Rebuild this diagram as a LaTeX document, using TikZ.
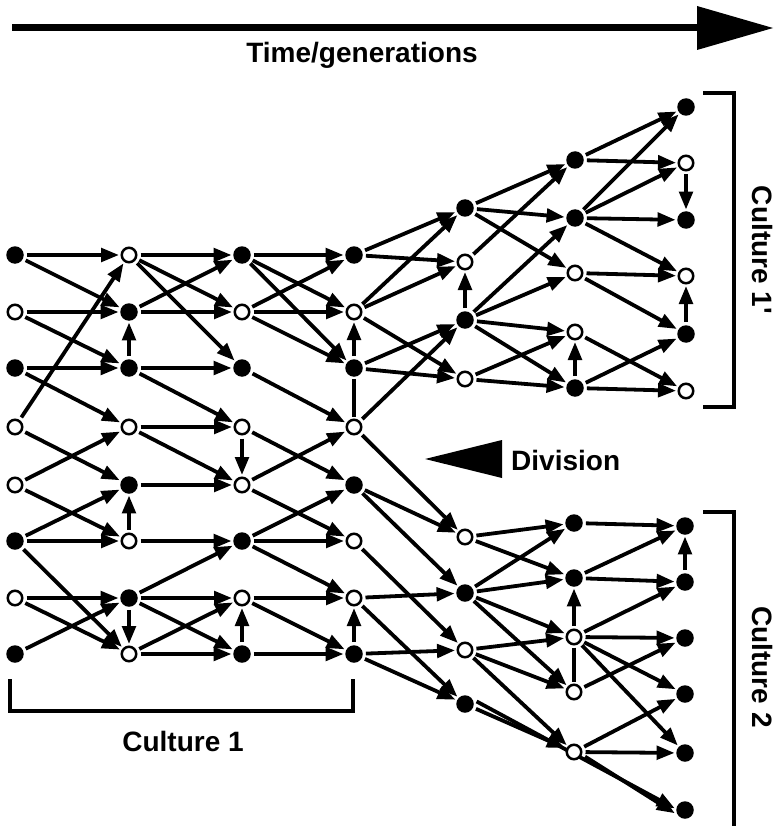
\documentclass[tikz,border=0pt]{standalone}
\usepackage{fontspec}
\setmainfont{Liberation Sans}
\usetikzlibrary{arrows.meta,backgrounds}
\tikzset{
  fnode/.style={circle,fill=black,minimum size=17.5pt,inner sep=0pt},
  onode/.style={circle,draw=black,line width=2.5pt,fill=white,minimum size=14.5pt,inner sep=0pt},
  arr/.style={line width=3.8pt,-{Triangle[length=18pt,width=13.5pt]},shorten >=1.5pt,shorten <=3pt},
  pln/.style={line width=3.8pt,shorten >=2pt,shorten <=2pt},
  lab/.style={font=\bfseries\fontsize{28}{32}\selectfont},
  brk/.style={line width=3.6pt}
}
\begin{document}
\begin{tikzpicture}[x=1pt,y=-1pt]
\useasboundingbox (0,0) rectangle (776,826);
% time arrow
\coordinate (ts) at (12,28);
\coordinate (te) at (700,28);
\draw[line width=7pt] (ts) -- (te);
\fill (697,6) -- (773,28) -- (697,50) -- cycle;
\node[lab] (time) at (362,55) {Time/generations};
% columns
\foreach \n/\y/\t in {1/255/fnode,2/312/onode,3/368/fnode,4/427/onode,5/485/onode,6/541/fnode,7/598/onode,8/654/fnode}
  {\node[\t] (a\n) at (15,\y) {};}
\foreach \n/\y/\t in {1/255/onode,2/312/fnode,3/368/fnode,4/427/onode,5/485/fnode,6/541/onode,7/598/fnode,8/654/onode}
  {\node[\t] (b\n) at (129,\y) {};}
\foreach \n/\y/\t in {1/255/fnode,2/312/onode,3/368/fnode,4/427/onode,5/485/onode,6/541/fnode,7/598/onode,8/654/fnode}
  {\node[\t] (c\n) at (242,\y) {};}
\foreach \n/\y/\t in {1/255/fnode,2/312/onode,3/368/fnode,4/427/onode,5/485/fnode,6/541/onode,7/598/onode,8/654/fnode}
  {\node[\t] (d\n) at (354,\y) {};}
\foreach \n/\y/\t in {1/208/fnode,2/262/onode,3/320/fnode,4/379/onode}
  {\node[\t] (e\n) at (465,\y) {};}
\foreach \n/\y/\t in {1/537/onode,2/593/fnode,3/650/onode,4/704/fnode}
  {\node[\t] (f\n) at (465,\y) {};}
\foreach \n/\y/\t in {1/160/fnode,2/218/fnode,3/273/onode,4/332/onode,5/388/fnode}
  {\node[\t] (g\n) at (575,\y) {};}
\foreach \n/\y/\t in {1/107/fnode,2/163/onode,3/220/fnode,4/276/onode,5/334/fnode,6/391/onode}
  {\node[\t] (h\n) at (686,\y) {};}
\foreach \n/\y/\t in {1/523/fnode,2/578/fnode,3/637/onode,4/692/onode,5/752/onode}
  {\node[\t] (p\n) at (574,\y) {};}
\foreach \n/\y/\t in {1/526/fnode,2/582/fnode,3/638/fnode,4/694/fnode,5/753/fnode,6/810/fnode}
  {\node[\t] (q\n) at (685,\y) {};}
% edges col0 -> col1
\foreach \s/\e in {a1/b1,a1/b2,a2/b2,a2/b3,a3/b3,a3/b4,a4/b1,a4/b5,a5/b4,a5/b6,a6/b5,a6/b6,a6/b8,a7/b7,a7/b8,a8/b7,b3/b2,b6/b5,b7/b8}
  {\draw[arr] (\s) -- (\e);}
% col1 -> col2
\foreach \s/\e in {b1/c1,b1/c2,b1/c3,b2/c1,b2/c2,b3/c3,b3/c4,b4/c4,b4/c5,b5/c5,b6/c6,b7/c6,b7/c7,b7/c8,b8/c7,b8/c8,c4/c5,c8/c7}
  {\draw[arr] (\s) -- (\e);}
% col2 -> col3
\foreach \s/\e in {c1/d1,c1/d2,c1/d3,c2/d1,c2/d2,c2/d3,c3/d4,c4/d5,c5/d4,c5/d6,c6/d5,c6/d6,c6/d7,c7/d7,c7/d8,c8/d8,d3/d2,d8/d7}
  {\draw[arr] (\s) -- (\e);}
\draw[pln] (d3) -- (d4);
% col3 -> col4
\foreach \s/\e in {d1/e1,d1/e2,d2/e1,d2/e2,d2/e4,d3/e3,d3/e4,d4/e3,e3/e2,d4/f1,d5/f1,d5/f2,d6/f3,d7/f2,d7/f4,d8/f3,d8/f4}
  {\draw[arr] (\s) -- (\e);}
% col4 -> col5 (top)
\foreach \s/\e in {e1/g1,e1/g2,e1/g3,e2/g1,e3/g2,e3/g3,e3/g4,e3/g5,e4/g4,e4/g5,g5/g4}
  {\draw[arr] (\s) -- (\e);}
% col5 -> col6 (top)
\foreach \s/\e in {g1/h1,g1/h2,g2/h1,g2/h2,g2/h3,g2/h4,h2/h3,g3/h4,g3/h5,h5/h4,g4/h6,g5/h5,g5/h6}
  {\draw[arr] (\s) -- (\e);}
% col4 -> col5 (bottom)
\foreach \s/\e in {f1/p1,f1/p2,f2/p1,f2/p2,f2/p3,f2/p4,f3/p3,f3/p4,f3/p5,f4/p5,p3/p2}
  {\draw[arr] (\s) -- (\e);}
\begin{pgfonlayer}{background}
\draw[arr] ([yshift=4pt]f4.east) -- ([yshift=1pt]q6.west);
\end{pgfonlayer}
\draw[pln] (p3) -- (p4);
% col5 -> col6 (bottom)
\foreach \s/\e in {p1/q1,p2/q1,p2/q2,q2/q1,p3/q2,p3/q3,p3/q4,p3/q5,p4/q3,p5/q4,p5/q5}
  {\draw[arr] (\s) -- (\e);}
\draw[arr] ([yshift=-3pt]p5.east) -- ([yshift=-4pt]q6.west);
% brackets and labels
\draw[brk] (10,679) -- (10,711) -- (353,711) -- (353,679);
\node[lab] (c1lab) at (183,741) {Culture 1};
\draw[brk] (703,93) -- (734,93) -- (734,407) -- (703,407);
\node[lab,rotate=-90] (c1plab) at (762,250) {Culture 1\textquotesingle};
\draw[brk] (703,512) -- (734,512) -- (734,826);
\node[lab,rotate=-90] (c2lab) at (762,667) {Culture 2};
% division
\fill (425,459) -- (502,440) -- (502,478) -- cycle;
\node[lab,anchor=west,inner sep=0pt] (div) at (511,460) {Division};
\end{tikzpicture}
\end{document}
